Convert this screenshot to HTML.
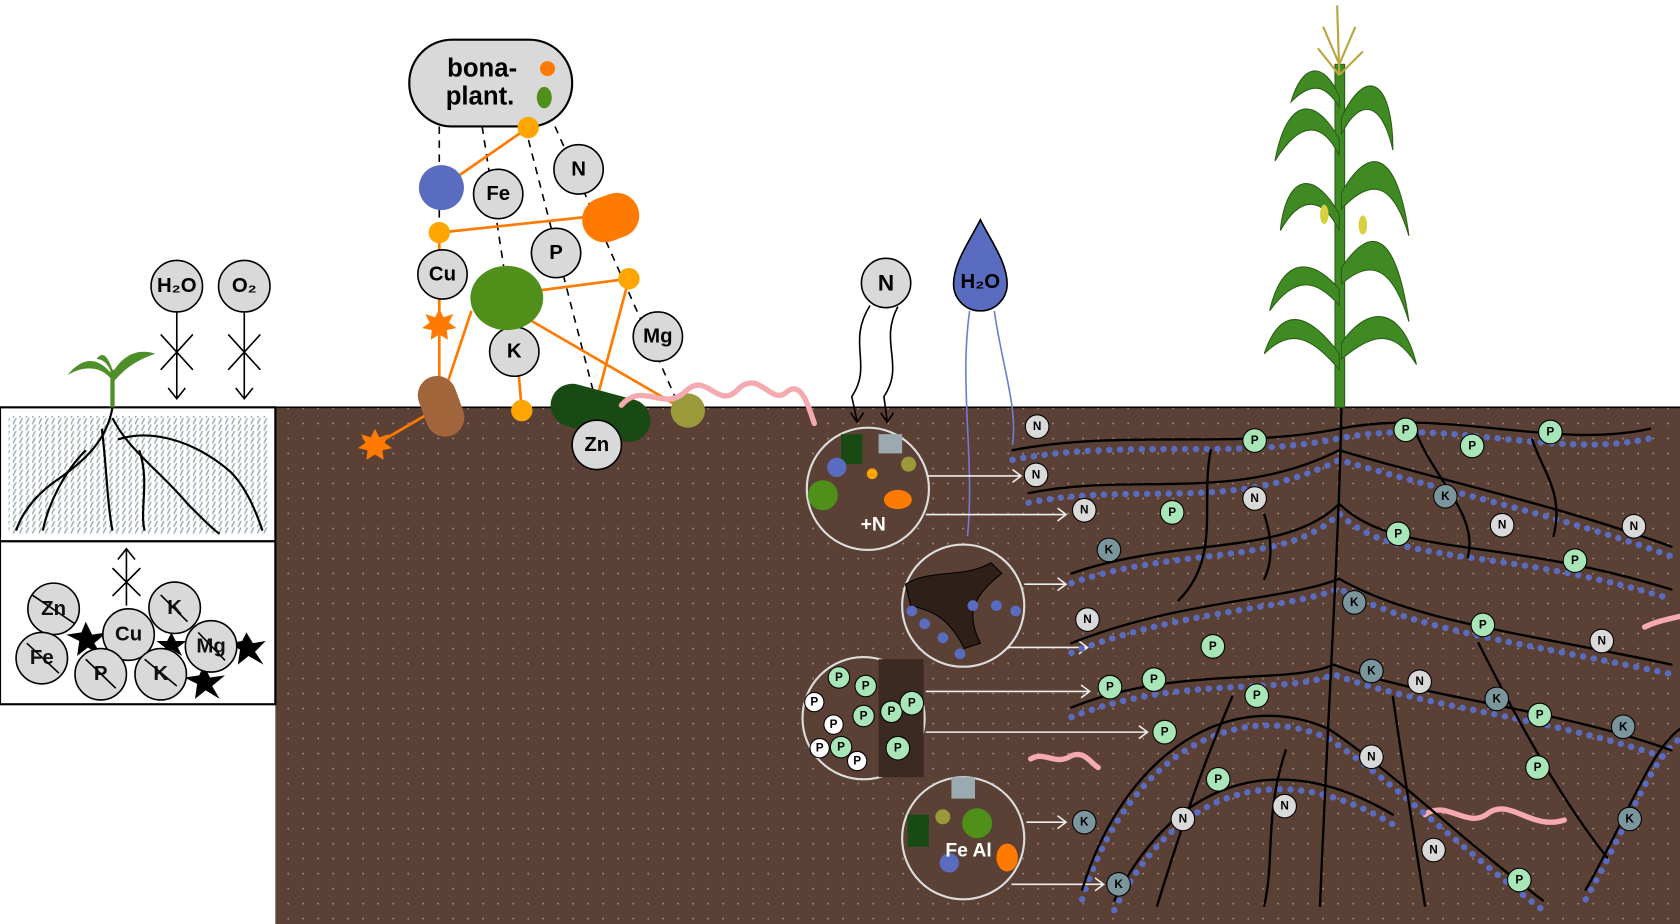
<!DOCTYPE html>
<html><head><meta charset="utf-8"><style>
html,body{margin:0;padding:0;background:#fff;width:1680px;height:924px;overflow:hidden}
svg{display:block}
text{font-family:"Liberation Sans",sans-serif;font-weight:bold;text-anchor:middle;dominant-baseline:central}
</style></head><body>
<svg width="1680" height="924" viewBox="0 0 1568 862" preserveAspectRatio="none" xmlns="http://www.w3.org/2000/svg">
<defs>
<pattern id="dots" width="14" height="14" patternUnits="userSpaceOnUse"><circle cx="3" cy="3" r="0.9" fill="#9c8a80"/></pattern>
<pattern id="hatch" width="6" height="6" patternUnits="userSpaceOnUse"><path d="M0 6 L3 0" stroke="#9fb0b0" stroke-width="1.4"/></pattern>
</defs>
<rect width="1568" height="862" fill="#fff"/>
<rect x="257" y="380" width="1311" height="482" fill="#5a4035"/>
<rect x="257" y="380" width="1311" height="482" fill="url(#dots)"/>
<line x1="0" y1="380" x2="1568" y2="380" stroke="#000" stroke-width="1.5"/>
<rect x="0" y="380" width="257" height="125" fill="#fff" stroke="#000" stroke-width="2"/>
<rect x="8" y="388" width="244" height="110" fill="url(#hatch)"/>
<g stroke="#000" stroke-width="2" fill="none">
<path d="M105 380 C100 410 80 430 50 450 C30 465 20 480 15 495"/>
<path d="M105 390 C120 420 150 440 175 470 C190 485 200 495 205 498"/>
<path d="M80 420 C60 440 45 470 40 495"/>
<path d="M110 410 C140 400 180 410 215 440 C230 455 240 480 245 495"/>
<path d="M95 400 C100 440 100 470 105 495"/>
<path d="M130 420 C140 450 130 475 135 495"/>
</g>
<rect x="0" y="505" width="257" height="152" fill="#fff" stroke="#000" stroke-width="2"/>
<g fill="#000">
<polygon points="80,580 86,592 100,590 88,600 95,612 82,604 72,612 74,598 62,592 76,590"/>
<polygon points="190,620 196,632 210,630 198,640 205,652 192,644 182,652 184,638 172,632 186,630"/>
<polygon points="230,590 236,600 248,598 238,608 246,620 232,612 222,620 224,606 214,600 226,598"/>
<polygon points="160,590 164,598 174,598 166,604 170,612 160,606 152,612 154,604 146,598 156,598"/>
</g>
<g stroke="#000" stroke-width="1.5" fill="#d9d9d9">
<circle cx="50" cy="568" r="24"/><circle cx="163" cy="567" r="24"/>
<circle cx="120" cy="592" r="24"/><circle cx="197" cy="603" r="24"/>
<circle cx="39" cy="614" r="24"/><circle cx="94" cy="629" r="24"/><circle cx="150" cy="629" r="24"/>
</g>
<g font-size="19" fill="#111">
<text x="50" y="568">Zn</text><text x="163" y="567">K</text><text x="120" y="592">Cu</text>
<text x="197" y="603">Mg</text><text x="39" y="614">Fe</text><text x="94" y="629">P</text><text x="150" y="629">K</text>
</g>
<g stroke="#000" stroke-width="1.5" fill="none">
<path d="M118 512 V565 M110 522 L118 512 L126 522 M105 530 L131 556 M131 530 L105 556"/>
<path d="M30 555 L70 582 M150 555 L175 580 M80 615 L108 642 M135 615 L165 640 M185 590 L210 616 M25 600 L55 628"/>
</g>
<g fill="#4f8f2a">
<rect x="103" y="345" width="4" height="35"/>
<path d="M105 350 C90 330 75 335 63 350 C80 340 95 342 105 355Z"/>
<path d="M105 348 C115 330 130 325 145 330 C130 335 118 342 107 355Z"/>
<path d="M105 345 C100 330 95 328 90 335 C97 335 101 340 105 350Z"/>
</g>
<g stroke="#000" stroke-width="1.5">
<circle cx="165" cy="267" r="24" fill="#d9d9d9"/><circle cx="228" cy="267" r="24" fill="#d9d9d9"/>
<path d="M165 291 V372 M157 362 L165 372 L173 362 M150 312 L180 345 M180 312 L150 345" fill="none"/>
<path d="M228 291 V372 M220 362 L228 372 L236 362 M213 312 L243 345 M243 312 L213 345" fill="none"/>
</g>
<text x="165" y="267" font-size="19">H₂O</text><text x="228" y="267" font-size="19">O₂</text>
<rect x="382" y="37" width="152" height="81" rx="40" fill="#d9d9d9" stroke="#000" stroke-width="2"/>
<text x="450" y="64" font-size="24" font-family="DejaVu Sans">bona-</text>
<text x="448" y="90" font-size="24" font-family="DejaVu Sans">plant.</text>
<circle cx="511" cy="64" r="7" fill="#ff7a00"/><ellipse cx="508" cy="91" rx="7" ry="10" fill="#4f8f1a"/>
<g stroke="#000" stroke-width="1.5" stroke-dasharray="7,6" fill="none">
<path d="M410 118 V360"/><path d="M450 118 L478 300"/><path d="M490 118 L555 370"/><path d="M518 118 L630 370"/>
</g>
<g stroke="#ff7a00" stroke-width="2.5" fill="none">
<path d="M493 119 L412 175"/><path d="M410 217 L570 200"/><path d="M480 290 L640 383"/>
<path d="M472 275 L587 260 L555 380"/><path d="M410 220 V360"/><path d="M350 415 L410 380 L440 290"/>
<path d="M487 383 L480 300"/>
</g>
<circle cx="412" cy="175" r="21" fill="#5a6cc0"/>
<g stroke="#000" stroke-width="1.5" fill="#d9d9d9">
<circle cx="465" cy="181" r="23"/><circle cx="540" cy="158" r="23"/><circle cx="519" cy="236" r="23"/>
<circle cx="413" cy="256" r="23"/><circle cx="480" cy="328" r="23"/><circle cx="614" cy="314" r="23"/>
</g>
<g font-size="19"><text x="465" y="181">Fe</text><text x="540" y="158">N</text><text x="519" y="236">P</text>
<text x="413" y="256">Cu</text><text x="480" y="328">K</text><text x="614" y="314">Mg</text></g>
<g fill="#ffa500"><circle cx="493" cy="119" r="10"/><circle cx="410" cy="217" r="10"/><circle cx="587" cy="260" r="10"/><circle cx="487" cy="383" r="10"/></g>
<rect x="543" y="182" width="54" height="42" rx="21" fill="#ff7a00" transform="rotate(-20 570 203)"/>
<ellipse cx="473" cy="278" rx="34" ry="30" fill="#4f8f1a"/>
<rect x="394" y="350" width="36" height="58" rx="18" fill="#a0653a" transform="rotate(-20 412 380)"/>
<rect x="513" y="365" width="95" height="40" rx="20" fill="#1a4a14" transform="rotate(15 560 385)"/>
<circle cx="557" cy="415" r="23" fill="#d9d9d9" stroke="#000" stroke-width="1.5"/><text x="557" y="415" font-size="19">Zn</text>
<circle cx="642" cy="383" r="16" fill="#9a9a3a"/>
<polygon points="410,288 414,296 423,293 419,301 426,306 417,308 418,317 410,312 402,317 403,308 394,306 401,301 397,293 406,296" fill="#ff7a00"/>
<polygon points="350,400 354,408 363,405 359,413 366,418 357,420 358,429 350,424 342,429 343,420 334,418 341,413 337,405 346,408" fill="#ff7a00"/>
<g stroke="#f4aab0" stroke-width="5" fill="none" stroke-linecap="round">
<path d="M580 378 C600 355 620 385 640 365 C660 345 670 385 690 362 C710 345 720 380 735 365 C748 355 755 380 760 395"/>
<path d="M962 708 C975 700 985 715 1000 705 C1012 700 1018 712 1025 716"/>
<path d="M1330 760 C1350 745 1370 775 1390 758 C1410 745 1430 775 1460 765"/>
<path d="M1535 585 C1545 580 1555 578 1568 575"/>
</g>
<circle cx="827" cy="264" r="23" fill="#d9d9d9" stroke="#000" stroke-width="1.5"/><text x="827" y="264" font-size="21">N</text>
<g stroke="#000" stroke-width="1.5" fill="none"><path d="M812 285 C790 320 815 340 795 370 L800 393 M794 385 L800 394 L806 385"/><path d="M838 286 C820 320 845 340 825 370 L828 393 M822 385 L828 394 L834 385"/></g>
<path d="M915 205 C905 225 890 245 890 265 A25 25 0 0 0 940 265 C940 245 925 225 915 205Z" fill="#5a6cc0" stroke="#000" stroke-width="1.5"/>
<text x="915" y="263" font-size="19">H₂O</text>
<g stroke="#6a7fd0" stroke-width="1.5" fill="none"><path d="M905 290 C895 360 910 430 903 500"/><path d="M928 290 C935 340 950 380 945 415"/></g>
<g stroke="#ddd" stroke-width="2">
<circle cx="810" cy="456" r="57" fill="#5a4035"/>
<circle cx="899" cy="565" r="57" fill="#5a4035"/>
<circle cx="806" cy="670" r="57" fill="#5a4035"/>
<circle cx="899" cy="782" r="57" fill="#5a4035"/>
</g>
<circle cx="768" cy="462" r="14" fill="#4f8f1a"/><rect x="820" y="405" width="22" height="18" fill="#9aaab0"/><rect x="785" y="405" width="20" height="28" fill="#1a4a14"/>
<circle cx="781" cy="436" r="9" fill="#5a6cc0"/><ellipse cx="838" cy="466" rx="13" ry="9" fill="#ff7a00"/><circle cx="848" cy="433" r="7" fill="#9a9a3a"/><circle cx="814" cy="442" r="5" fill="#ffa500"/>
<text x="815" y="490" font-size="18" fill="#fff">+N</text>
<path d="M845 545 C870 530 900 540 925 525 L935 535 C910 555 900 570 915 600 L900 605 C885 575 870 570 850 565Z" fill="#2e2019" stroke="#000"/>
<g fill="#5a6cc0"><circle cx="851" cy="570" r="5"/><circle cx="880" cy="595" r="5"/><circle cx="896" cy="610" r="5"/><circle cx="908" cy="565" r="5"/><circle cx="930" cy="565" r="5"/><circle cx="948" cy="570" r="5"/><circle cx="863" cy="582" r="5"/></g>
<rect x="820" y="615" width="42" height="110" fill="#3a2a22"/>
<g stroke="#000" fill="#fff"><circle cx="760" cy="655" r="9"/><circle cx="778" cy="676" r="9"/><circle cx="765" cy="698" r="9"/><circle cx="800" cy="710" r="9"/></g>
<g fill="#a8e6b8" stroke="#000"><circle cx="783" cy="632" r="10"/><circle cx="808" cy="640" r="10"/><circle cx="806" cy="668" r="10"/><circle cx="832" cy="664" r="10"/><circle cx="785" cy="697" r="10"/><circle cx="851" cy="656" r="11"/><circle cx="838" cy="698" r="11"/></g>
<g font-size="11"><text x="760" y="655">P</text><text x="778" y="676">P</text><text x="765" y="698">P</text><text x="800" y="710">P</text><text x="783" y="632">P</text><text x="808" y="640">P</text><text x="806" y="668">P</text><text x="832" y="664">P</text><text x="785" y="697">P</text><text x="851" y="656">P</text><text x="838" y="698">P</text></g>
<circle cx="880" cy="762" r="7" fill="#9a9a3a"/><circle cx="912" cy="768" r="14" fill="#4f8f1a"/><rect x="888" y="725" width="22" height="20" fill="#9aaab0"/>
<rect x="847" y="760" width="20" height="30" fill="#1a4a14"/><circle cx="886" cy="805" r="9" fill="#5a6cc0"/><ellipse cx="940" cy="800" rx="10" ry="13" fill="#ff7a00"/>
<text x="904" y="794" font-size="18" fill="#fff">Fe Al</text>
<g stroke="#eee" stroke-width="1.5" fill="none">
<path d="M866 444 H953 M945 438 L953 444 L945 450"/>
<path d="M864 480 H995 M987 474 L995 480 L987 486"/>
<path d="M956 545 H995 M987 539 L995 545 L987 551"/>
<path d="M940 604 H1015 M1007 598 L1015 604 L1007 610"/>
<path d="M864 645 H1017 M1009 639 L1017 645 L1009 651"/>
<path d="M864 683 H1071 M1063 677 L1071 683 L1063 689"/>
<path d="M958 767 H995 M987 761 L995 767 L987 773"/>
<path d="M944 825 H1030 M1022 819 L1030 825 L1022 831"/>
</g>
<g fill="none" stroke-linecap="round">
<g stroke="#5a6cc0" stroke-width="6" stroke-dasharray="0.1,10" transform="translate(0,9)">
<path d="M945 420 C1050 400 1150 420 1250 400 C1350 380 1450 420 1540 400"/>
<path d="M960 460 C1060 440 1150 470 1250 420 C1350 450 1450 470 1560 510"/>
<path d="M1000 535 C1100 500 1200 520 1250 470 C1300 520 1400 500 1560 550"/>
<path d="M1000 600 C1100 560 1200 560 1250 540 C1320 580 1420 590 1560 620"/>
<path d="M1000 660 C1100 620 1200 640 1245 620 C1320 650 1450 660 1560 700"/>
<path d="M1010 830 C1050 700 1150 640 1240 680 C1300 720 1360 780 1440 840"/>
<path d="M1040 840 C1100 720 1200 700 1300 760"/>
<path d="M1480 830 C1520 760 1540 700 1568 680"/>
</g>
<g stroke="#000" stroke-width="2.2">
<path d="M1252 380 C1250 500 1240 650 1232 845"/>
<path d="M945 420 C1050 400 1150 420 1250 400 C1350 380 1450 420 1540 400"/>
<path d="M960 460 C1060 440 1150 470 1250 420 C1350 450 1450 470 1560 510"/>
<path d="M1000 535 C1100 500 1200 520 1250 470 C1300 520 1400 500 1560 550"/>
<path d="M1000 600 C1100 560 1200 560 1250 540 C1320 580 1420 590 1560 620"/>
<path d="M1000 660 C1100 620 1200 640 1245 620 C1320 650 1450 660 1560 700"/>
<path d="M1010 830 C1050 700 1150 640 1240 680 C1300 720 1360 780 1440 840"/>
<path d="M1040 840 C1100 720 1200 700 1300 760"/>
<path d="M1480 830 C1520 760 1540 700 1568 680"/>
<path d="M1130 420 C1120 470 1140 520 1100 560"/><path d="M1180 480 C1190 510 1185 530 1180 540"/>
<path d="M1320 400 C1340 450 1380 480 1370 520"/><path d="M1430 410 C1440 440 1460 460 1450 500"/>
<path d="M1150 650 C1120 720 1100 780 1080 845"/><path d="M1300 650 C1310 720 1320 780 1330 845"/>
<path d="M1380 600 C1420 680 1460 750 1500 800"/><path d="M1200 700 C1180 760 1190 800 1180 845"/>
</g>
</g>
<g stroke="#000" stroke-width="1">
<g fill="#d9d9d9"><circle cx="968" cy="398" r="11"/><circle cx="967" cy="443" r="11"/><circle cx="1012" cy="476" r="11"/><circle cx="1171" cy="465" r="11"/><circle cx="1402" cy="490" r="11"/><circle cx="1525" cy="491" r="11"/><circle cx="1015" cy="578" r="11"/><circle cx="1495" cy="598" r="11"/><circle cx="1325" cy="636" r="11"/><circle cx="1280" cy="706" r="11"/><circle cx="1199" cy="752" r="11"/><circle cx="1104" cy="764" r="11"/><circle cx="1338" cy="793" r="11"/></g>
<g fill="#a8e6b8"><circle cx="1171" cy="411" r="11"/><circle cx="1312" cy="401" r="11"/><circle cx="1374" cy="416" r="11"/><circle cx="1447" cy="403" r="11"/><circle cx="1094" cy="478" r="11"/><circle cx="1305" cy="498" r="11"/><circle cx="1470" cy="523" r="11"/><circle cx="1384" cy="583" r="11"/><circle cx="1132" cy="603" r="11"/><circle cx="1036" cy="641" r="11"/><circle cx="1077" cy="634" r="11"/><circle cx="1173" cy="649" r="11"/><circle cx="1087" cy="683" r="11"/><circle cx="1437" cy="667" r="11"/><circle cx="1435" cy="716" r="11"/><circle cx="1137" cy="727" r="11"/><circle cx="1418" cy="821" r="11"/></g>
<g fill="#7a969c"><circle cx="1349" cy="463" r="11"/><circle cx="1035" cy="513" r="11"/><circle cx="1264" cy="562" r="11"/><circle cx="1280" cy="626" r="11"/><circle cx="1397" cy="652" r="11"/><circle cx="1515" cy="678" r="11"/><circle cx="1012" cy="767" r="11"/><circle cx="1521" cy="764" r="11"/><circle cx="1044" cy="825" r="11"/></g>
</g>
<g font-size="11">
<text x="968" y="398">N</text><text x="967" y="443">N</text><text x="1012" y="476">N</text><text x="1171" y="465">N</text><text x="1402" y="490">N</text><text x="1525" y="491">N</text><text x="1015" y="578">N</text><text x="1495" y="598">N</text><text x="1325" y="636">N</text><text x="1280" y="706">N</text><text x="1199" y="752">N</text><text x="1104" y="764">N</text><text x="1338" y="793">N</text>
<text x="1171" y="411">P</text><text x="1312" y="401">P</text><text x="1374" y="416">P</text><text x="1447" y="403">P</text><text x="1094" y="478">P</text><text x="1305" y="498">P</text><text x="1470" y="523">P</text><text x="1384" y="583">P</text><text x="1132" y="603">P</text><text x="1036" y="641">P</text><text x="1077" y="634">P</text><text x="1173" y="649">P</text><text x="1087" y="683">P</text><text x="1437" y="667">P</text><text x="1435" y="716">P</text><text x="1137" y="727">P</text><text x="1418" y="821">P</text>
<text x="1349" y="463">K</text><text x="1035" y="513">K</text><text x="1264" y="562">K</text><text x="1280" y="626">K</text><text x="1397" y="652">K</text><text x="1515" y="678">K</text><text x="1012" y="767">K</text><text x="1521" y="764">K</text><text x="1044" y="825">K</text>
</g>
<g fill="#3f8a22" stroke="#2a5e16" stroke-width="1">
<rect x="1246" y="60" width="9" height="320"/>
<path d="M1250 330 C1220 290 1195 285 1180 330 C1205 305 1225 315 1250 345Z"/>
<path d="M1252 320 C1280 280 1310 290 1322 340 C1300 305 1280 312 1252 335Z"/>
<path d="M1250 270 C1220 235 1195 245 1185 290 C1210 255 1230 262 1250 285Z"/>
<path d="M1252 250 C1285 200 1305 230 1315 300 C1300 250 1280 240 1252 265Z"/>
<path d="M1250 200 C1225 155 1200 165 1195 215 C1215 180 1235 185 1250 215Z"/>
<path d="M1252 180 C1280 130 1305 145 1315 220 C1300 170 1280 165 1252 195Z"/>
<path d="M1250 130 C1225 85 1200 95 1190 150 C1215 110 1235 115 1250 145Z"/>
<path d="M1252 110 C1275 60 1300 75 1300 140 C1290 95 1270 90 1252 125Z"/>
<path d="M1250 90 C1235 55 1215 60 1205 95 C1225 75 1238 80 1250 100Z"/>
</g>
<g stroke="#b8a640" stroke-width="2"><path d="M1250 70 L1248 5 M1250 60 L1235 25 M1250 60 L1265 25 M1250 70 L1230 45 M1250 70 L1272 48"/></g>
<ellipse cx="1236" cy="200" rx="4" ry="9" fill="#d8d040"/><ellipse cx="1272" cy="210" rx="4" ry="9" fill="#d8d040"/>
</svg>
</body></html>
